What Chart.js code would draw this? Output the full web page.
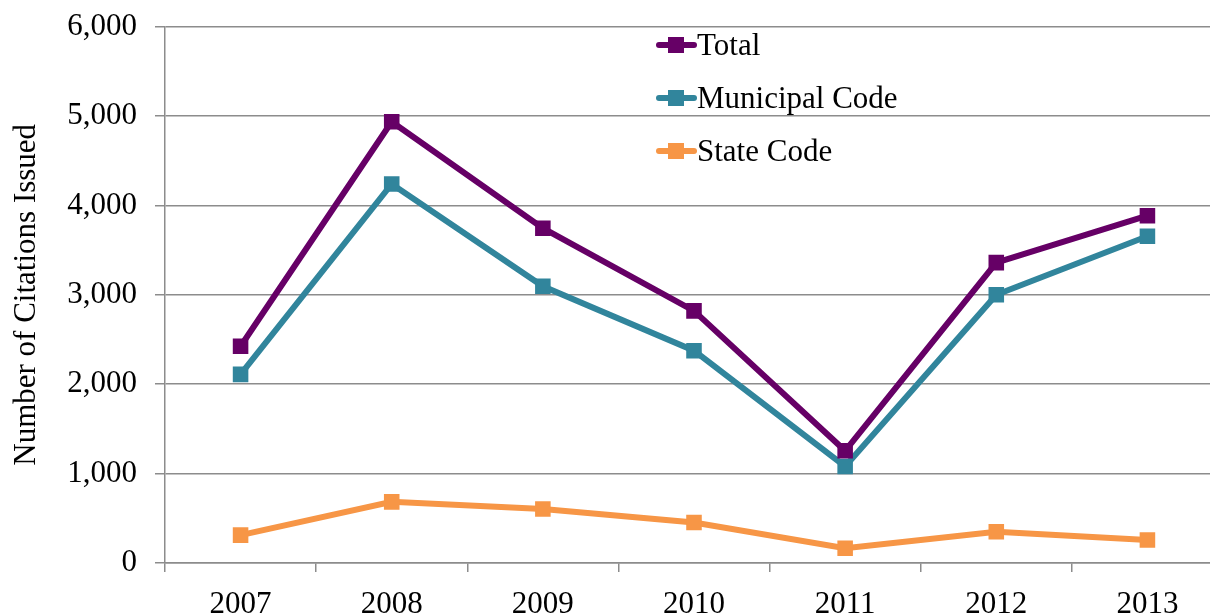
<!DOCTYPE html>
<html>
<head>
<meta charset="utf-8">
<script src="https://cdn.jsdelivr.net/npm/chart.js@4.4.1/dist/chart.umd.min.js"></script>
<style>
  html, body { margin: 0; padding: 0; background: #fff; overflow: hidden; }
  #wrap { position: relative; width: 1234px; height: 616px; }
  #chart { position: absolute; left: 0; top: -10px; }
  #legend { position: absolute; left: 656px; top: 18px; font-family: "Liberation Serif", "Times New Roman", serif; font-size: 31px; color: #000; }
  .row { height: 53px; display: flex; align-items: center; }
  .key { position: relative; width: 41px; height: 38px; }
  .key .ln { position: absolute; left: 0; right: 0; top: 16px; height: 6px; border-radius: 3px; }
  .key .sq { position: absolute; left: 12px; top: 11px; width: 16px; height: 16px; }
</style>
</head>
<body>
<div id="wrap">
  <canvas id="chart" width="1234" height="626"></canvas>
  <div id="legend"></div>
</div>
<script>
// chart data
const years = ['2007', '2008', '2009', '2010', '2011', '2012', '2013'];
const total = [2425, 4935, 3745, 2820, 1255, 3360, 3885];
const municipal = [2110, 4240, 3095, 2375, 1080, 3000, 3655];
const stateCode = [312, 684, 605, 452, 166, 350, 258];
const yTicks = [0, 1000, 2000, 3000, 4000, 5000, 6000];

const seriesNames = ['Total', 'Municipal Code', 'State Code'];
const seriesColors = ['#660066', '#31859C', '#F79646'];

const serif = '"Liberation Serif", "Times New Roman", serif';

function makeSet(i, values) {
  return {
    label: seriesNames[i],
    data: values,
    borderColor: seriesColors[i],
    backgroundColor: seriesColors[i],
    borderWidth: 6,
    pointStyle: 'rect',
    pointRadius: 11,
    pointBorderWidth: 0,
    tension: 0
  };
}

const ctx = document.getElementById('chart').getContext('2d');
new Chart(ctx, {
  type: 'line',
  data: {
    labels: years,
    datasets: [makeSet(0, total), makeSet(1, municipal), makeSet(2, stateCode)]
  },
  options: {
    responsive: false,
    animation: false,
    layout: { padding: { top: 17, right: 2, left: 0, bottom: 0 } },
    plugins: { legend: { display: false }, tooltip: { enabled: false } },
    scales: {
      x: {
        offset: true,
        afterFit: (s) => { s.height = 53; },
        grid: { offset: true, drawOnChartArea: false, tickLength: 9, color: '#8c8c8c', lineWidth: 1.5 },
        border: { display: true, color: '#8c8c8c', width: 1.5 },
        ticks: { color: '#000', padding: 14, font: { family: serif, size: 31 }, maxRotation: 0 }
      },
      y: {
        min: 0,
        max: 6000,
        afterFit: (s) => { s.width = 165; },
        afterBuildTicks: (s) => { s.ticks = yTicks.map(v => ({ value: v })); },
        grid: { tickLength: 10, color: '#8c8c8c', lineWidth: 1.5 },
        border: { display: true, color: '#8c8c8c', width: 1.5 },
        ticks: {
          color: '#000',
          padding: 18,
          font: { family: serif, size: 31 },
          callback: (v) => v.toLocaleString('en-US')
        },
        title: {
          display: true,
          text: 'Number of Citations Issued',
          color: '#000',
          font: { family: serif, size: 31 },
          padding: { top: 8, bottom: 0 }
        }
      }
    }
  }
});

// legend inside the plot
const legend = document.getElementById('legend');
seriesNames.forEach((name, i) => {
  const row = document.createElement('div');
  row.className = 'row';
  row.innerHTML = '<span class="key"><span class="ln" style="background:' + seriesColors[i] +
    '"></span><span class="sq" style="background:' + seriesColors[i] + '"></span></span><span>' + name + '</span>';
  legend.appendChild(row);
});
</script>
</body>
</html>
